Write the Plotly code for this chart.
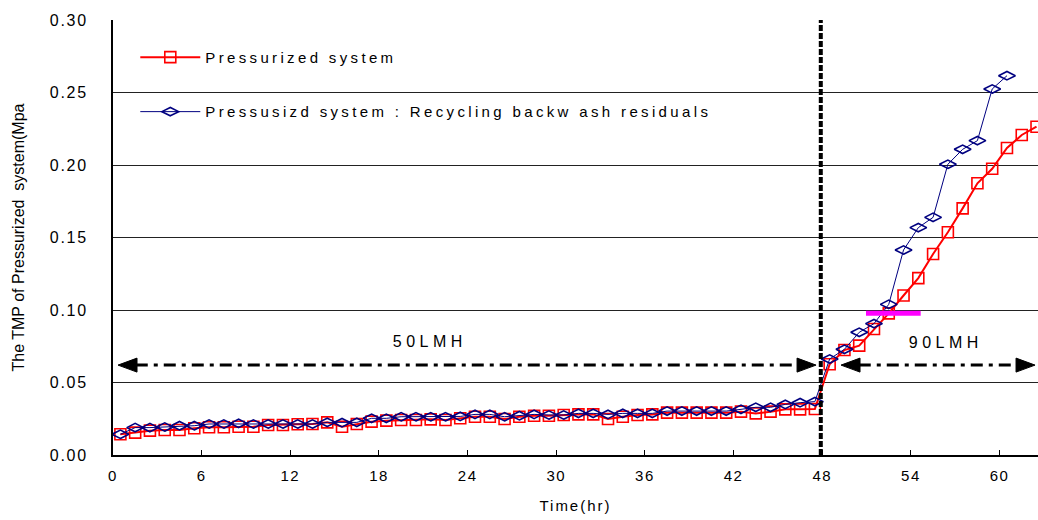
import plotly.graph_objects as go

# ---- data ----
# time in hours; one sample per hour, centred at the half hour
hours_red = [i + 0.5 for i in range(63)]
hours_blue = [i + 0.5 for i in range(61)]

tmp_pressurized = [
    0.0143, 0.0154, 0.0168, 0.0172, 0.0172, 0.0184, 0.0191, 0.0191, 0.0195, 0.0195,
    0.0207, 0.0207, 0.0212, 0.0214, 0.0225, 0.0195, 0.0214, 0.0230, 0.0237, 0.0241,
    0.0241, 0.0246, 0.0241, 0.0253, 0.0264, 0.0264, 0.0248, 0.0264, 0.0271, 0.0271,
    0.0276, 0.0280, 0.0280, 0.0248, 0.0264, 0.0276, 0.0280, 0.0292, 0.0292, 0.0292,
    0.0292, 0.0292, 0.0299, 0.0287, 0.0299, 0.0315, 0.0315, 0.0317,
    0.0626, 0.0724, 0.0754, 0.0869, 0.0977, 0.1100, 0.1220, 0.1386, 0.1536, 0.1701,
    0.1874, 0.1974, 0.2117, 0.2207, 0.2264,
]

tmp_recycling = [
    0.0143, 0.0189, 0.0189, 0.0193, 0.0202, 0.0202, 0.0214, 0.0214, 0.0218, 0.0214,
    0.0214, 0.0214, 0.0214, 0.0214, 0.0225, 0.0223, 0.0225, 0.0253, 0.0253, 0.0264,
    0.0264, 0.0264, 0.0264, 0.0266, 0.0280, 0.0280, 0.0264, 0.0271, 0.0280, 0.0276,
    0.0276, 0.0287, 0.0287, 0.0280, 0.0287, 0.0287, 0.0287, 0.0303, 0.0303, 0.0303,
    0.0303, 0.0303, 0.0315, 0.0329, 0.0329, 0.0349, 0.0361, 0.0368,
    0.0662, 0.0729, 0.0846, 0.0906, 0.1039, 0.1414, 0.1568, 0.1639, 0.2005, 0.2108,
    0.2168, 0.2524, 0.2616,
]

x_ticks = [0, 6, 12, 18, 24, 30, 36, 42, 48, 54, 60]
y_ticks = [0.00, 0.05, 0.10, 0.15, 0.20, 0.25, 0.30]
y_ticktext = ["0.00", "0.05", "0.10", "0.15", "0.20", "0.25", "0.30"]

name_red = "Pressurized system"
name_blue = "Pressusizd system : Recycling backw ash residuals"
x_title = "Time(hr)"
y_title = "The TMP of Pressurized  system(Mpa"

flux_change_hour = 47.9
flux1_label, flux1_span, flux_y = "50LMH", (0.34, 47.58), 0.062
flux2_label, flux2_span = "90LMH", (49.27, 62.4)
marker_level = 0.0977
marker_span = (50.96, 54.66)

FONT = "Arial, 'Liberation Sans', sans-serif"

fig = go.Figure()

fig.add_trace(go.Scatter(
    x=hours_red, y=tmp_pressurized, name=name_red, mode="lines+markers",
    line=dict(color="#FF0000", width=2),
    marker=dict(symbol="square-open", size=11, color="#FF0000", line=dict(width=1.6)),
    legendgroup="a",
))
fig.add_trace(go.Scatter(
    x=hours_blue, y=tmp_recycling, name=name_blue, mode="lines+markers",
    line=dict(color="#000080", width=1),
    marker=dict(symbol="diamond-wide-open", size=12, color="#000080", line=dict(width=1.6)),
    legendgroup="b",
))

# white patch behind legend (hides gridline like the original)
fig.add_shape(type="rect", xref="paper", yref="paper",
              x0=0.0216, x1=0.6476, y0=0.7356, y1=0.977,
              fillcolor="white", line=dict(width=0), layer="between")

# vertical dashed line at flux change
fig.add_shape(type="line", x0=flux_change_hour, x1=flux_change_hour, y0=0, y1=0.30,
              xref="x", yref="y", line=dict(color="black", width=4, dash="6px,2px"))

# dash-dot double arrows
for (a, b) in (flux1_span, flux2_span):
    fig.add_shape(type="line", x0=a + 1.2, x1=b - 1.2, y0=flux_y, y1=flux_y,
                  line=dict(color="black", width=3, dash="12px,6px,4px,6px"))
    fig.add_shape(type="path", xsizemode="pixel", ysizemode="pixel",
                  xanchor=a, yanchor=flux_y, path="M0,0 L19,7 L19,-7 Z",
                  fillcolor="black", line=dict(color="black", width=1))
    fig.add_shape(type="path", xsizemode="pixel", ysizemode="pixel",
                  xanchor=b, yanchor=flux_y, path="M0,0 L-19,7 L-19,-7 Z",
                  fillcolor="black", line=dict(color="black", width=1))

# magenta marker line
fig.add_shape(type="line", x0=marker_span[0], x1=marker_span[1], y0=marker_level, y1=marker_level,
              line=dict(color="#FF00FF", width=5))

fig.add_annotation(x=21.45, y=0.0786, text=flux1_label, showarrow=False,
                   font=dict(family=FONT, size=16, color="black"))
fig.add_annotation(x=56.4, y=0.0773, text=flux2_label, showarrow=False,
                   font=dict(family=FONT, size=16, color="black"))

fig.update_layout(
    width=1038, height=520,
    margin=dict(l=113, r=0, t=20, b=65),
    paper_bgcolor="white", plot_bgcolor="white",
    font=dict(family=FONT, size=15, color="black"),
    showlegend=True,
    legend=dict(x=0.0241, y=0.952, xanchor="left", yanchor="top",
                bgcolor="rgba(0,0,0,0)", font=dict(size=15), itemwidth=60,
                tracegroupgap=32, traceorder="grouped"),
    xaxis=dict(range=[0, 62.6], tickvals=x_ticks, ticks="inside", ticklen=5,
               tickcolor="black", showgrid=False, zeroline=False,
               showline=True, linecolor="black", linewidth=2,
               ticklabelstandoff=6,
               title=dict(text=x_title, standoff=17, font=dict(size=15))),
    yaxis=dict(range=[0, 0.30], tickvals=y_ticks, ticktext=y_ticktext,
               ticks="", showgrid=True, gridcolor="#222222", gridwidth=1,
               zeroline=False, showline=True, linecolor="black", linewidth=2,
               ticklabelstandoff=20, tickfont=dict(size=16),
               title=dict(text=y_title, standoff=28, font=dict(size=16))),
)

post = """
document.body.style.margin = '0';
var gd = document.getElementById('{plot_id}');
function sp(sel, v){ gd.querySelectorAll(sel).forEach(function(e){ e.style.letterSpacing = v; }); }
sp('.xtick text', '1.5px');
sp('.ytick text', '1.7px');
sp('.legendtext', '3.35px');
sp('.annotation-text', '4.5px');
sp('.xtitle', '2px');
gd.querySelectorAll('.legend [clip-path]').forEach(function(e){ e.removeAttribute('clip-path'); });
"""

fig.write_html("out.html", post_script=post, config={"displayModeBar": False})
